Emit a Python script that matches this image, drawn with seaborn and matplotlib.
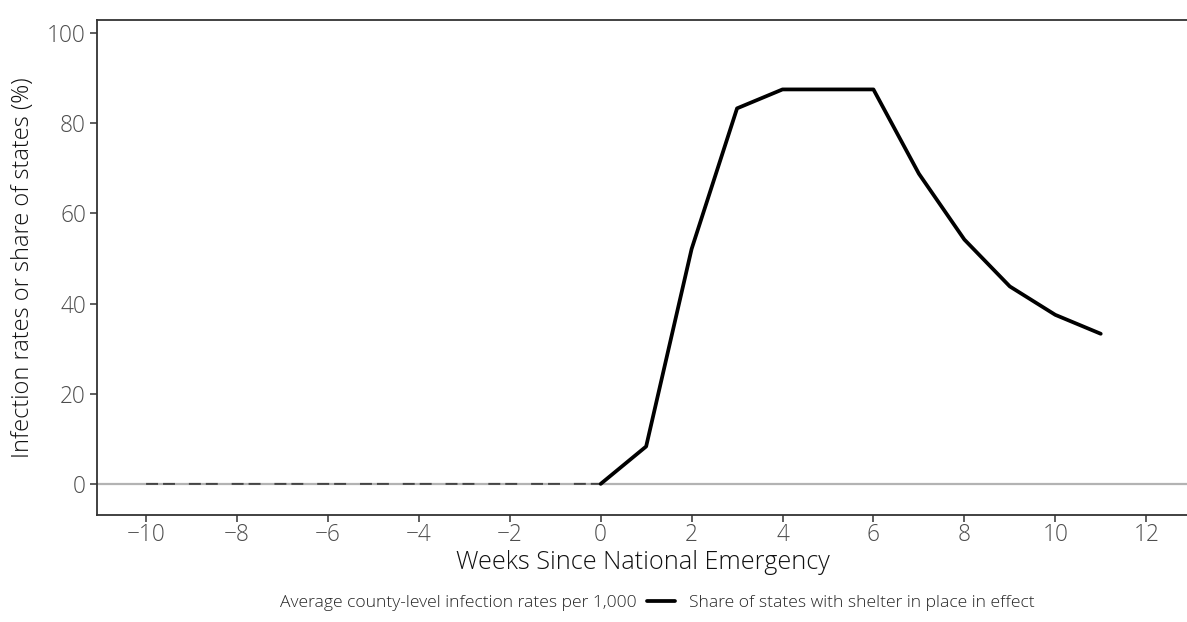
import matplotlib
matplotlib.use("Agg")
import matplotlib.pyplot as plt
from matplotlib.lines import Line2D
import numpy as np
import pandas as pd
import seaborn as sns

# Average county-level infection rates per 1,000 (weeks before the emergency)
infection_weeks = [-10, -9, -8, -7, -6, -5, -4, -3, -2, -1, 0]
infection_rate = [0.0, 0.0, 0.0, 0.0, 0.0, 0.0, 0.0, 0.0, 0.0, 0.0, 0.01]

# Share of states with shelter in place in effect (%)
shelter_weeks = [0, 1, 2, 3, 4, 5, 6, 7, 8, 9, 10, 11]
shelter_share = [0.0, 8.3, 52.1, 83.3, 87.5, 87.5, 87.5, 68.8, 54.2, 43.8, 37.5, 33.3]

x_ticks = [-10, -8, -6, -4, -2, 0, 2, 4, 6, 8, 10, 12]
y_ticks = [0, 20, 40, 60, 80, 100]

infection_label = "Average county-level infection rates per 1,000"
shelter_label = "Share of states with shelter in place in effect"

sns.set_theme(style="white")
plt.rcParams["font.family"] = ["Open Sans", "DejaVu Sans"]
plt.rcParams["font.weight"] = "light"
plt.rcParams["axes.labelweight"] = "light"
plt.rcParams["axes.unicode_minus"] = True
plt.rcParams["lines.scale_dashes"] = False

fig = plt.figure(figsize=(11.87, 6.22), dpi=100)
ax = fig.add_axes([97 / 1187, 107 / 622, 1 - 97 / 1187 + 0.002, 495 / 622])

ax.axhline(0, color="#b3b3b3", lw=1.6, zorder=1)

inf_df = pd.DataFrame({"week": infection_weeks, "value": infection_rate})
sh_df = pd.DataFrame({"week": shelter_weeks, "value": shelter_share})

sns.lineplot(data=inf_df, x="week", y="value", ax=ax, color="#444444",
             lw=1.4, linestyle=(0, (8.6, 3.6, 8.6, 10.0)), zorder=2)
sns.lineplot(data=sh_df, x="week", y="value", ax=ax, color="black",
             lw=2.7, zorder=3)

ax.set_xlim(-11.08, 12.95)
ax.set_ylim(-6.9, 102.9)
ax.set_xticks(x_ticks)
ax.set_yticks(y_ticks)
ax.set_xticklabels([f"\u2212{abs(t)}" if t < 0 else str(t) for t in x_ticks])

for side in ["left", "bottom", "top", "right"]:
    ax.spines[side].set_color("#333333")
    ax.spines[side].set_linewidth(1.3)
    ax.spines[side].set_visible(True)

ax.tick_params(axis="both", which="major", length=5, width=1.1, color="#333333",
               labelsize=16.3, labelcolor="#4d4d4d", direction="out",
               bottom=True, left=True)
ax.tick_params(axis="x", pad=1)
ax.tick_params(axis="y", pad=3)

ax.set_xlabel("Weeks Since National Emergency", fontsize=18.2, color="#111111",
              labelpad=2, fontweight="light")
ax.set_ylabel("Infection rates or share of states (%)", fontsize=17,
              color="#111111", labelpad=9, fontweight="light")

handles = [Line2D([], [], color="none", lw=2.7),
           Line2D([], [], color="black", lw=2.7)]
fig.legend(handles, [infection_label, shelter_label], loc="center",
           bbox_to_anchor=(636 / 1187, 19 / 622), ncol=2, frameon=False,
           prop={"size": 12.6, "weight": "light"},
           handlelength=1.6, handletextpad=0.8, columnspacing=0.6)

fig.savefig("out.png", dpi=100)
